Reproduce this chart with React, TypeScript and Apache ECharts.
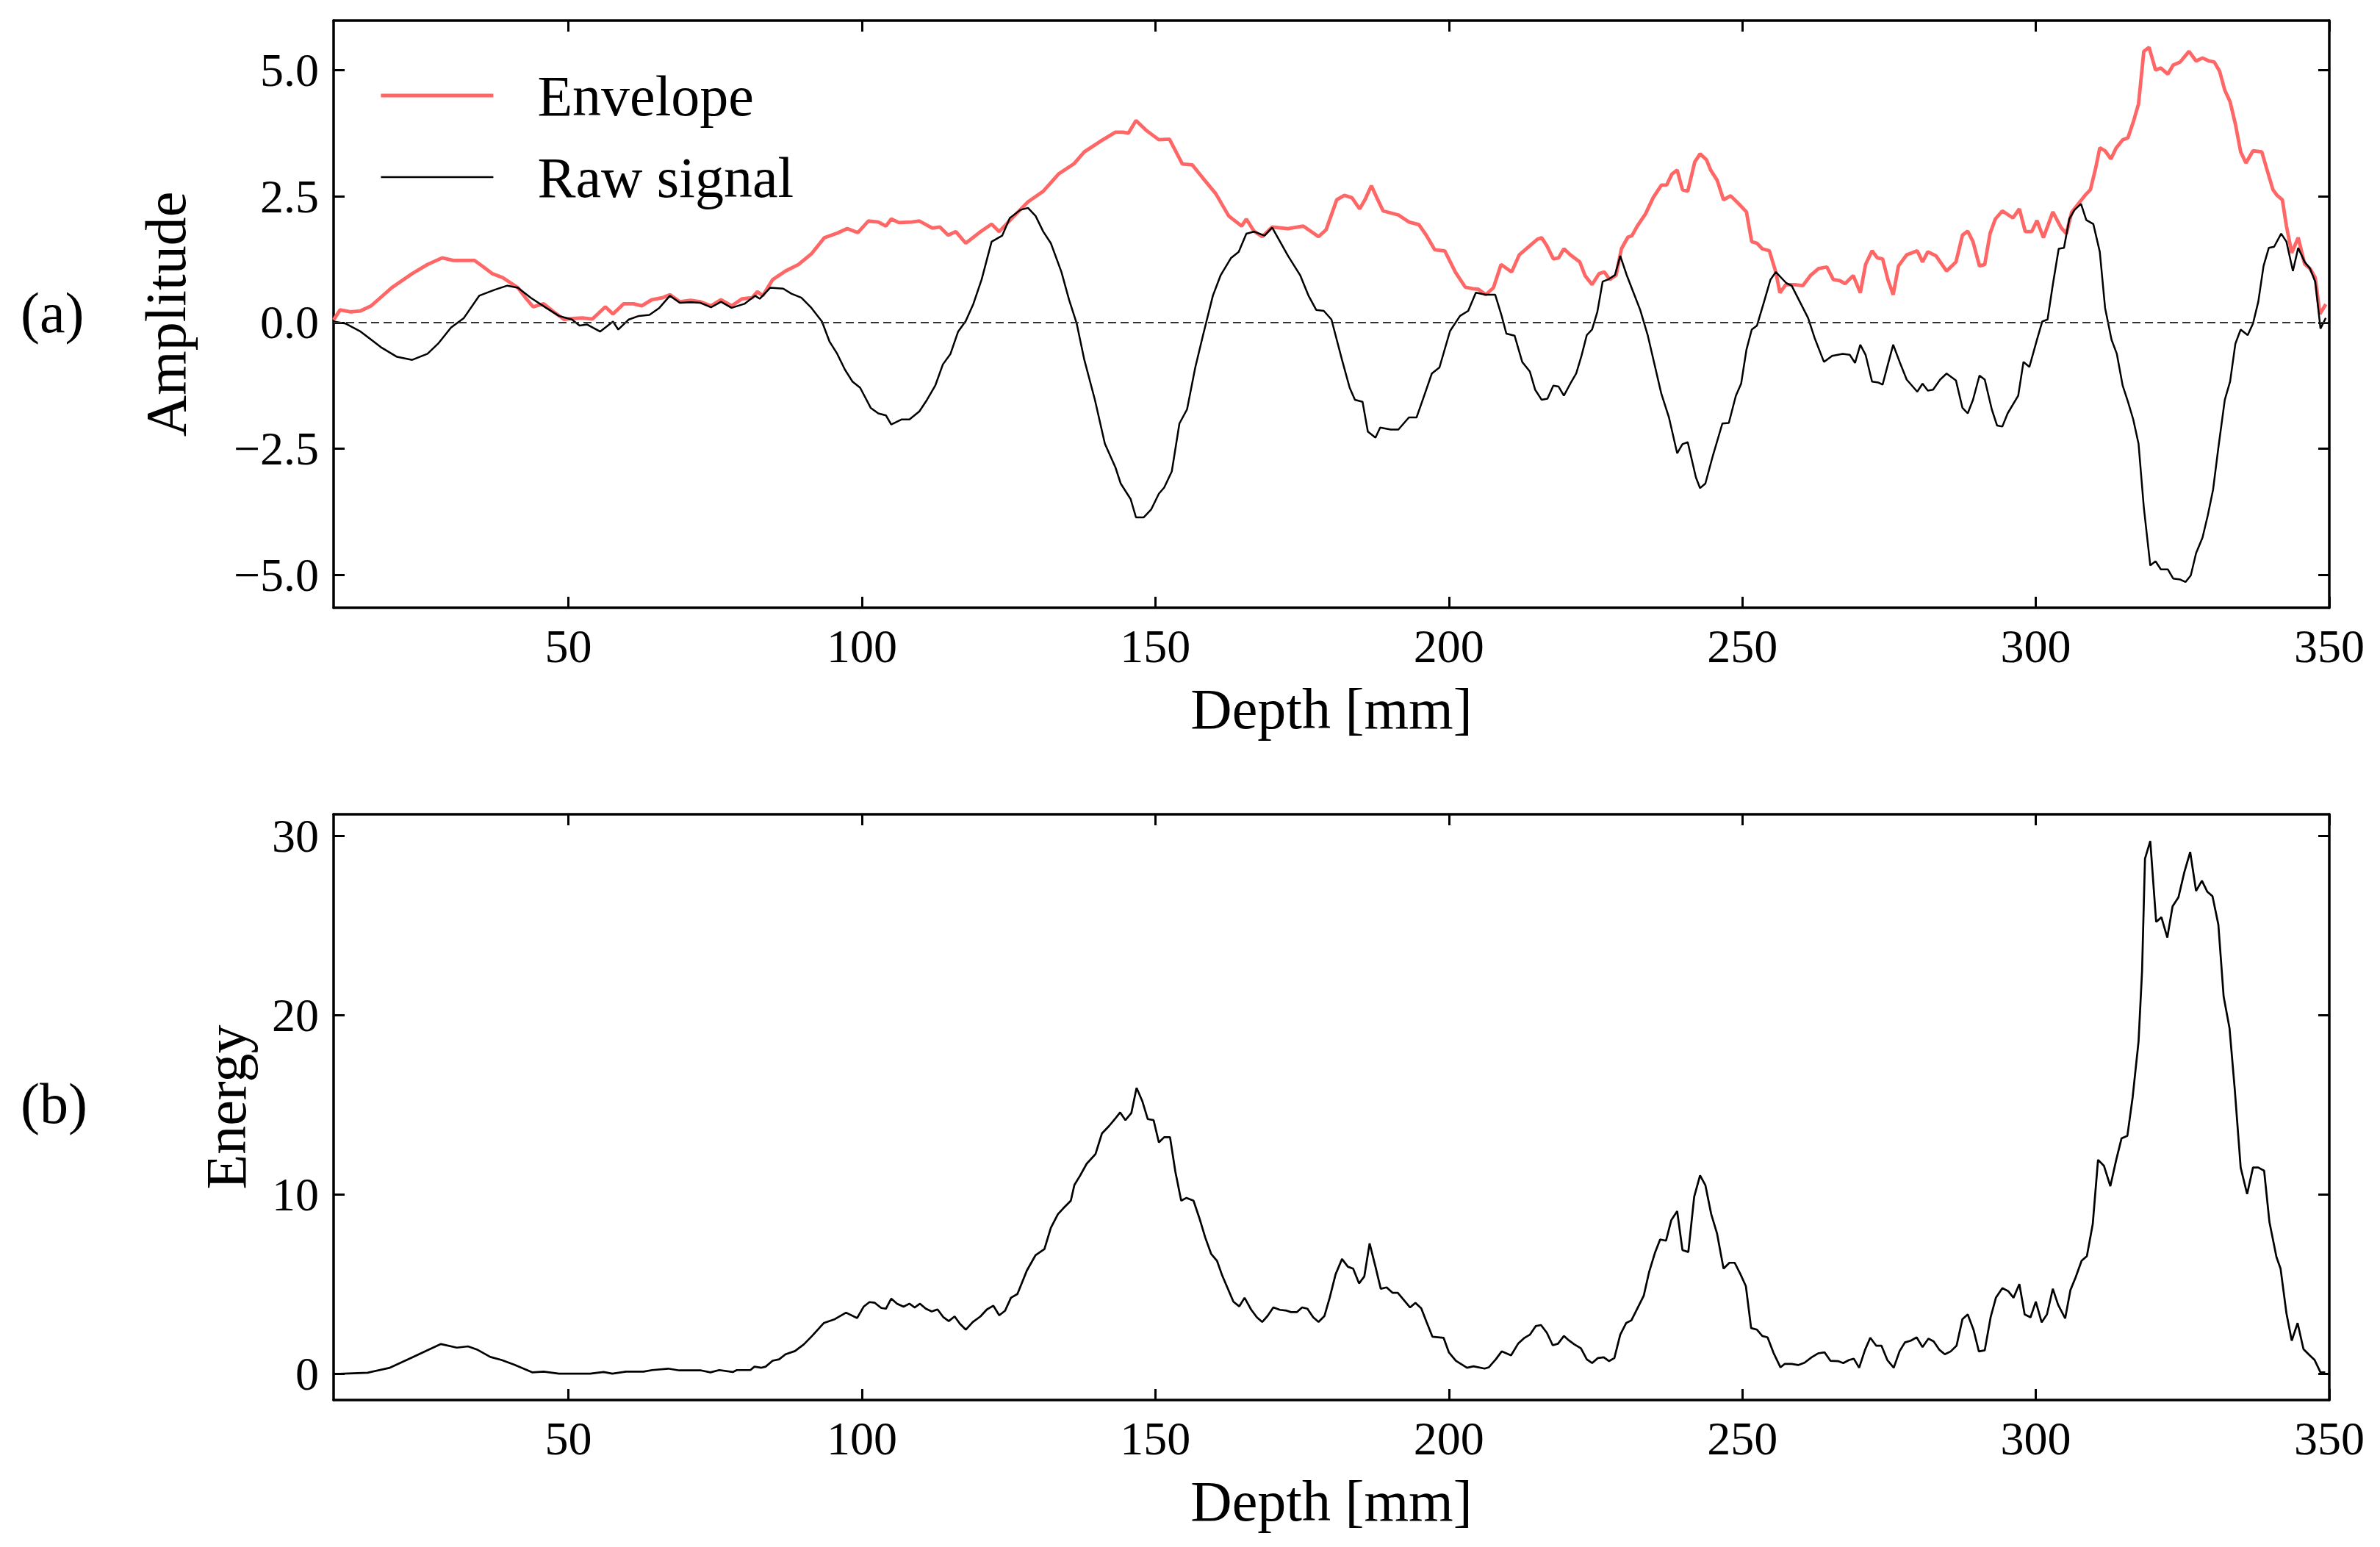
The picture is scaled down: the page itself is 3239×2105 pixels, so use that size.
import React, { useEffect, useRef } from "react";
import * as echarts from "echarts";

const envDepth = [10,11.1,12.9,14.6,16.4,19.9,23.4,26,28.5,30.4,32.2,34,35.3,37,38.8,41.4,42.7,44,45.8,47.5,49.3,50.6,52.4,54.1,55,56.3,57.6,59.4,61.1,62.5,64.2,66,67.3,69,70.8,72.5,74.3,76,77.8,79.6,81.3,82.2,83.1,84.8,87,89.2,91.4,93.6,95.8,97.5,99.3,101.1,102.8,104.1,105,106.3,108.5,109.8,112,113.3,114.7,116,117.7,120,122.1,123.4,125.6,128.3,130.9,133.5,136.1,137.9,140.5,143.2,144.5,145.4,146.7,148.4,150.6,152.4,154.6,156.3,158.1,160.3,162.5,164.7,165.5,166.8,168.2,169.9,172.6,175.2,177.8,179.1,180.9,182.2,183.5,184.8,185.7,186.8,187.9,188.8,191.4,193.2,194.9,196.2,197.6,199.3,201.1,202.8,204.1,205,206.3,207.6,208.9,210.7,212,213.8,215.1,215.8,216.7,217.8,218.7,219.6,220.7,222.3,223.2,224.4,225.6,226.5,227.4,228.5,229.4,230.5,231.2,232.1,233.5,234.8,236.2,237.1,238,238.9,239.8,240.7,241.9,242.8,243.9,244.6,245.7,246.8,248,249.4,250.7,251.6,252.5,253.4,254.6,255.7,256.4,257.4,258.9,260.3,261.6,263,264.4,265.5,266.6,267.5,268.9,270.1,271,272.1,273,273.9,274.8,275.7,276.6,278,279.8,280.7,281.6,283,284.8,286.4,287.5,288.4,289.3,290.4,291.3,292.2,293.1,294.3,296.1,297.2,298.2,299.3,300.2,301.3,302.9,304.3,305.2,306.1,307.5,308.4,309.3,310.2,310.9,311.8,312.8,313.7,314.8,315.7,316.6,317.5,318.4,319.3,320.4,321.3,322.5,323.4,324.6,326.1,327.3,328.4,329.5,330.4,331.3,332.2,333.1,334,334.9,335.8,337,338.5,339.3,340.4,341.1,342,342.7,343.6,344.7,345.8,346.7,347.6,348.4,349.4];
const envAmp = [0.05,0.25,0.21,0.23,0.33,0.69,0.97,1.15,1.28,1.23,1.23,1.23,1.12,0.97,0.89,0.69,0.49,0.31,0.37,0.21,0.06,0.08,0.09,0.07,0.17,0.31,0.17,0.37,0.37,0.33,0.45,0.49,0.55,0.41,0.44,0.41,0.33,0.45,0.33,0.47,0.49,0.61,0.53,0.85,1.02,1.15,1.36,1.68,1.77,1.86,1.78,2.01,1.99,1.91,2.05,1.98,1.99,2.01,1.87,1.89,1.73,1.8,1.57,1.78,1.95,1.8,2.07,2.39,2.6,2.94,3.14,3.38,3.58,3.77,3.77,3.75,4.0,3.81,3.62,3.63,3.14,3.12,2.86,2.55,2.11,1.91,2.05,1.81,1.7,1.89,1.86,1.91,1.7,1.84,2.43,2.52,2.47,2.25,2.43,2.71,2.43,2.21,2.13,1.99,1.94,1.72,1.44,1.42,1.0,0.7,0.67,0.66,0.55,0.69,1.15,1.0,1.34,1.52,1.65,1.68,1.52,1.26,1.28,1.46,1.34,1.2,0.93,0.75,0.97,1.0,0.85,0.94,1.46,1.69,1.72,1.91,2.15,2.47,2.72,2.72,2.94,3.02,2.63,2.6,3.18,3.34,3.22,3.02,2.82,2.43,2.51,2.35,2.19,1.6,1.57,1.46,1.42,1.0,0.59,0.75,0.75,0.73,0.93,1.07,1.1,0.85,0.83,0.77,0.93,0.59,1.15,1.42,1.28,1.26,0.85,0.55,1.12,1.34,1.42,1.2,1.4,1.32,1.02,1.2,1.73,1.81,1.6,1.12,1.15,1.76,2.05,2.21,2.07,2.25,1.8,1.8,2.02,1.68,2.19,1.88,1.76,2.18,2.39,2.52,2.63,3.06,3.46,3.4,3.24,3.46,3.62,3.66,3.97,4.33,5.37,5.45,5.0,5.04,4.92,5.1,5.16,5.37,5.18,5.24,5.18,5.16,4.98,4.6,4.37,3.93,3.38,3.16,3.4,3.38,3.06,2.63,2.52,2.43,1.91,1.38,1.68,1.16,1.07,0.89,0.17,0.36];

const rawDepth = [10,12,14.6,18.2,20.8,23.4,26,27.8,30,32.2,34.8,37.5,39.6,41.4,43.6,46.2,48.4,50.6,51.9,53.2,55.4,57.6,58.5,60.3,62,63.8,65.5,67.3,69,70.8,72.5,74.3,76,77.8,80,81.8,82.6,84.4,86.6,88,89.7,91.4,93.2,94.5,95.8,97.1,98.4,99.7,101.5,102.8,104.1,105,106.8,108.1,109.8,111.1,112.5,113.8,115.1,116.4,117.7,119,120.4,122.1,123.9,125.2,127,128.3,129.6,130.9,132.2,134,135.3,136.6,137.9,139.7,141.4,143.2,144.1,145.8,146.7,148,149.3,150.6,151.5,152.8,154.1,155.4,156.8,158.1,159.8,161.1,162.9,164.2,165.5,166.8,168.6,169.9,172.6,174.7,176.1,177.4,178.7,180,181.8,183.1,184,185.3,186.2,187.5,188.3,190.1,191.4,193.2,194.5,195.8,197.1,198.4,200.2,201.9,203.3,204.6,206.3,207.9,209,209.8,211.2,212.5,213.8,214.7,215.8,216.8,217.8,218.7,219.6,220.7,221.7,222.6,223.5,224.4,225.3,226.2,227.1,228.3,229.2,230.3,231.4,232.6,233.9,235,236.2,237.5,238.9,239.8,240.7,242.1,242.8,243.7,245,246.6,247.7,248.9,249.8,250.7,251.6,252.5,253.7,254.8,255.7,257.5,258.4,259.8,261.2,262.3,263.9,265.3,267.1,268.3,269.2,270.1,271,272.1,273.2,273.9,274.8,275.7,276.8,278,278.9,279.8,280.7,281.6,282.5,283.7,284.8,286.4,287.5,288.4,289.3,290.4,291.3,292.5,293.4,294.3,295.2,297,297.9,298.9,300.2,301.1,302,302.9,303.9,304.8,305.7,306.6,307.7,308.6,309.8,310.9,311.8,312.9,313.8,314.8,315.7,316.6,317.5,318.4,319.5,320.4,321.3,322.5,323.4,324.6,325.5,326.4,327.3,328.4,329.3,330.2,331.1,332.2,333.1,334,334.9,336.1,337,337.9,338.8,339.7,340.6,341.8,342.7,343.8,344.7,345.8,346.7,347.6,348.5,349.4];
const rawAmp = [0.02,-0.02,-0.18,-0.5,-0.68,-0.74,-0.62,-0.42,-0.1,0.09,0.53,0.65,0.73,0.69,0.49,0.29,0.13,0.06,-0.06,-0.04,-0.18,0.02,-0.14,0.06,0.13,0.15,0.29,0.53,0.39,0.4,0.39,0.3,0.41,0.29,0.37,0.53,0.47,0.69,0.67,0.57,0.49,0.29,0.02,-0.38,-0.62,-0.93,-1.17,-1.29,-1.69,-1.8,-1.84,-2.02,-1.92,-1.92,-1.76,-1.53,-1.25,-0.83,-0.62,-0.18,0.03,0.37,0.85,1.6,1.72,2.07,2.23,2.27,2.11,1.8,1.57,1.0,0.45,-0.02,-0.74,-1.53,-2.4,-2.87,-3.19,-3.5,-3.86,-3.86,-3.7,-3.39,-3.27,-2.95,-2.0,-1.72,-0.89,-0.26,0.53,0.93,1.28,1.4,1.76,1.8,1.72,1.88,1.32,0.93,0.53,0.25,0.23,0.06,-0.74,-1.29,-1.53,-1.57,-2.16,-2.28,-2.08,-2.12,-2.12,-1.88,-1.88,-1.45,-1.01,-0.89,-0.17,0.13,0.23,0.59,0.55,0.55,0.13,-0.22,-0.26,-0.78,-0.97,-1.33,-1.53,-1.51,-1.25,-1.27,-1.45,-1.21,-1.01,-0.66,-0.25,-0.14,0.21,0.81,0.85,0.94,1.32,0.94,0.61,0.25,-0.26,-0.81,-1.41,-1.88,-2.59,-2.41,-2.37,-3.07,-3.28,-3.19,-2.63,-2.0,-1.99,-1.45,-1.21,-0.54,-0.14,-0.06,0.41,0.85,1.0,0.78,0.73,0.41,0.09,-0.3,-0.78,-0.66,-0.62,-0.64,-0.8,-0.44,-0.64,-1.17,-1.19,-1.23,-0.83,-0.44,-0.78,-1.13,-1.25,-1.37,-1.21,-1.35,-1.33,-1.13,-1.01,-1.15,-1.69,-1.8,-1.53,-1.05,-1.13,-1.72,-2.04,-2.06,-1.8,-1.45,-0.78,-0.88,-0.34,0.02,0.06,0.75,1.46,1.48,2.05,2.23,2.35,2.03,1.95,1.4,0.29,-0.34,-0.62,-1.25,-1.57,-1.92,-2.4,-3.66,-4.81,-4.73,-4.89,-4.89,-5.07,-5.09,-5.14,-5.01,-4.57,-4.26,-3.82,-3.31,-2.48,-1.53,-1.17,-0.42,-0.14,-0.25,-0.02,0.41,1.12,1.48,1.5,1.76,1.6,1.02,1.48,1.2,1.07,0.81,-0.12,0.09];

const energyDepth = [10.1,15.8,19.6,23.4,26.4,28.3,31,32.9,34.4,36.7,38.6,40.8,43.9,45.8,48.4,53.7,56,57.5,59.8,62.8,64.3,67,68.9,72.6,74.2,75.7,78,78.7,81,81.7,82.9,83.6,84.8,85.9,87,88.6,90.1,91.6,93.5,95.4,97.3,99.2,100.3,101.3,102.2,103.3,104.1,105,106,107.1,108.1,109,109.9,110.9,111.9,112.9,113.9,114.8,115.8,116.7,117.7,118.9,120.2,121.3,122.4,123.4,124.4,125.4,126.5,128.1,129.6,131.1,132.2,133.4,134.3,135.6,136.2,137.2,138.3,139.8,140.9,142.1,143.1,144,144.9,145.9,146.8,147.8,148.7,149.7,150.6,151.5,152.5,153.4,154.4,155.3,156.5,157.5,158.5,159.5,160.5,161.4,163.3,164.3,165.2,166.3,167.3,168.2,169.1,170.1,171.2,172.4,173.1,174.1,175,175.9,176.9,177.8,178.8,179.7,180.7,181.8,182.8,183.7,184.7,185.6,186.5,187.5,188.4,189.4,190.4,191.3,192.3,193.4,194.3,195.3,196.2,197.2,199.1,200,201.2,203.1,204.2,206.1,206.8,208,209,210.6,211.8,212.9,213.8,214.8,215.7,216.7,217.7,218.6,219.6,220.5,221.4,222.5,223.5,224.4,225.4,226.4,227.3,228.2,229.2,230.2,231.1,232.2,233.2,234.1,235.1,236,237,237.9,238.9,239.8,240.8,241.8,242.8,243.7,244.7,245.7,246.8,247.8,248.7,249.7,250.6,251.5,252.5,253.4,254.3,255.3,256.5,257.2,258.4,259.5,260.6,261.8,262.9,264,265,266.3,267.2,268.2,269,269.9,270.9,271.8,272.8,273.7,274.7,275.8,276.8,277.7,278.7,279.7,280.7,281.7,282.6,283.6,284.5,285.5,286.5,287.5,288.4,289.4,290.3,291.3,292.3,293.2,294.3,295.3,296.2,297.2,298.1,299.1,300,301,301.9,302.9,303.8,305,305.9,306.8,307.8,308.7,309.7,310.6,311.6,312.7,313.7,314.6,315.6,316.5,317.5,318.1,318.6,319.5,320.5,321.4,322.4,323.3,324.3,325.3,326.3,327.3,328.3,329.2,330.1,331.1,332,333,333.9,334.9,336,337,337.9,338.9,339.8,341,341.7,342.7,343.6,344.6,345.6,346.6,347.5,348.5,349.3];
const energyVal = [0.0,0.07,0.35,0.93,1.39,1.67,1.47,1.54,1.37,0.95,0.78,0.52,0.09,0.13,0.02,0.02,0.11,0.02,0.13,0.13,0.22,0.3,0.2,0.2,0.09,0.22,0.11,0.22,0.22,0.41,0.35,0.41,0.74,0.82,1.1,1.28,1.65,2.15,2.84,3.06,3.42,3.12,3.75,4.01,3.97,3.68,3.64,4.2,3.92,3.75,3.92,3.71,3.92,3.64,3.49,3.6,3.16,2.95,3.21,2.8,2.47,2.9,3.21,3.6,3.81,3.27,3.53,4.25,4.46,5.76,6.63,6.96,8.15,8.91,9.23,9.66,10.53,11.07,11.72,12.26,13.41,13.82,14.21,14.58,14.15,14.54,15.95,15.19,14.21,14.15,12.91,13.2,13.2,11.29,9.66,9.82,9.66,8.69,7.61,6.7,6.31,5.48,4.03,3.77,4.25,3.6,3.16,2.9,3.23,3.71,3.58,3.53,3.45,3.45,3.71,3.64,3.16,2.9,3.23,4.25,5.55,6.41,5.98,5.87,5.05,5.44,7.28,5.98,4.75,4.83,4.53,4.53,4.14,3.71,3.97,3.66,2.9,2.08,2.02,1.21,0.74,0.35,0.43,0.3,0.37,0.82,1.26,1.04,1.69,2.02,2.19,2.67,2.73,2.3,1.6,1.69,2.12,1.86,1.65,1.43,0.82,0.61,0.89,0.93,0.72,0.89,2.19,2.84,2.99,3.71,4.36,5.66,6.74,7.5,7.43,8.58,9.08,6.91,6.8,9.88,11.07,10.53,8.91,7.82,5.87,6.2,6.2,5.55,4.9,2.56,2.47,2.12,2.04,1.19,0.37,0.56,0.56,0.5,0.63,0.93,1.15,1.21,0.74,0.72,0.61,0.78,0.85,0.35,1.34,2.02,1.58,1.58,0.78,0.35,1.28,1.76,1.86,2.04,1.5,1.97,1.82,1.34,1.1,1.26,1.58,3.06,3.32,2.45,1.26,1.32,3.16,4.25,4.79,4.62,4.25,5.01,3.32,3.16,4.03,2.88,3.32,4.75,3.86,3.1,4.68,5.4,6.31,6.57,8.36,11.94,11.61,10.47,11.94,13.13,13.28,15.43,18.53,22.45,28.73,29.71,25.2,25.46,24.33,26.07,26.57,27.97,29.1,26.93,27.5,26.89,26.63,25.05,21.04,19.28,15.84,11.51,10.03,11.51,11.51,11.33,8.47,6.52,5.87,3.38,1.86,2.84,1.39,1.06,0.78,0.09,0.09];

const xTicks = [50, 100, 150, 200, 250, 300, 350];
const ampTicks = [-5, -2.5, 0, 2.5, 5];
const energyTicks = [0, 10, 20, 30];

const FONT = "'Liberation Serif', 'DejaVu Serif', serif";
const TICK_FS = 64;
const LABEL_FS = 78;
const ENV_COLOR = "#FF6666";
const ENV_WIDTH = 4.8;
const RAW_WIDTH = 2.5;

const zip = (xs: number[], ys: number[]) => xs.map((x, i) => [x, ys[i]]);

function frameAxis(extra: any) {
  return {
    axisLine: { show: true, onZero: false, lineStyle: { color: "#000", width: 3.5 } },
    splitLine: { show: false },
    ...extra,
  };
}

export default function App() {
  const ref = useRef<HTMLDivElement>(null);
  useEffect(() => {
    if (!ref.current) return;
    const chart = echarts.init(ref.current, null, { renderer: "svg" });
    const tick = (vals: number[]) => ({
      show: true,
      inside: true,
      length: 15,
      customValues: vals,
      lineStyle: { color: "#000", width: 3 },
    });
    const label = (vals: number[], fmt: (v: number) => string) => ({
      show: true,
      customValues: vals,
      margin: 20,
      fontSize: TICK_FS,
      fontFamily: FONT,
      color: "#000",
      formatter: fmt,
    });
    const intFmt = (v: number) => String(Math.round(v));
    const ampFmt = (v: number) => (v < 0 ? "\u2212" + Math.abs(v).toFixed(1) : v.toFixed(1));
    const nameStyle = { fontSize: LABEL_FS, fontFamily: FONT, color: "#000" };

    const xMain = (grid: number) =>
      frameAxis({
        type: "value",
        gridIndex: grid,
        position: "bottom",
        min: 10,
        max: 350,
        axisTick: tick(xTicks),
        axisLabel: label(xTicks, intFmt),
        name: "Depth [mm]",
        nameLocation: "middle",
        nameGap: 98,
        nameTextStyle: nameStyle,
      });
    const xTop = (grid: number) =>
      frameAxis({
        type: "value",
        gridIndex: grid,
        position: "top",
        min: 10,
        max: 350,
        axisTick: tick(xTicks),
        axisLabel: { show: false },
      });

    const option: any = {
      animation: false,
      backgroundColor: "#fff",
      grid: [
        { left: 454, top: 28, width: 2716, height: 799, containLabel: false },
        { left: 454, top: 1108, width: 2716, height: 797, containLabel: false },
      ],
      xAxis: [xMain(0), xTop(0), xMain(1), xTop(1)],
      yAxis: [
        frameAxis({
          type: "value",
          gridIndex: 0,
          position: "left",
          min: -5.65,
          max: 5.98,
          axisTick: tick(ampTicks),
          axisLabel: label(ampTicks, ampFmt),
          name: "Amplitude",
          nameLocation: "middle",
          nameRotate: 90,
          nameGap: 190,
          nameTextStyle: nameStyle,
        }),
        frameAxis({
          type: "value",
          gridIndex: 0,
          position: "right",
          min: -5.65,
          max: 5.98,
          axisTick: tick(ampTicks),
          axisLabel: { show: false },
        }),
        frameAxis({
          type: "value",
          gridIndex: 1,
          position: "left",
          min: -1.45,
          max: 31.2,
          axisTick: tick(energyTicks),
          axisLabel: label(energyTicks, intFmt),
          name: "Energy",
          nameLocation: "middle",
          nameRotate: 90,
          nameGap: 108,
          nameTextStyle: nameStyle,
        }),
        frameAxis({
          type: "value",
          gridIndex: 1,
          position: "right",
          min: -1.45,
          max: 31.2,
          axisTick: tick(energyTicks),
          axisLabel: { show: false },
        }),
      ],
      legend: {
        show: true,
        orient: "vertical",
        left: 511,
        top: 86,
        itemWidth: 153,
        itemHeight: 20,
        itemGap: 33,
        itemStyle: { opacity: 0 },
        data: [
          { name: "Envelope", itemStyle: { opacity: 0 }, lineStyle: { color: ENV_COLOR, width: ENV_WIDTH } },
          { name: "Raw signal", itemStyle: { opacity: 0 }, lineStyle: { color: "#000", width: RAW_WIDTH } },
        ],
        textStyle: { fontSize: LABEL_FS, fontFamily: FONT, color: "#000", padding: [0, 0, 0, 55] },
      },
      graphic: [
        { type: "text", left: 28, top: 386, style: { text: "(a)", fontSize: LABEL_FS, fontFamily: FONT, fill: "#000" } },
        { type: "text", left: 28, top: 1462, style: { text: "(b)", fontSize: LABEL_FS, fontFamily: FONT, fill: "#000" } },
      ],
      series: [
        {
          name: "Envelope",
          type: "line",
          xAxisIndex: 0,
          yAxisIndex: 0,
          data: zip(envDepth, envAmp),
          symbol: "none",
          color: ENV_COLOR,
          lineStyle: { color: ENV_COLOR, width: ENV_WIDTH },
          z: 2,
        },
        {
          name: "Raw signal",
          type: "line",
          xAxisIndex: 0,
          yAxisIndex: 0,
          data: zip(rawDepth, rawAmp),
          symbol: "none",
          color: "#000",
          lineStyle: { color: "#000", width: RAW_WIDTH },
          z: 3,
          markLine: {
            silent: true,
            symbol: ["none", "none"],
            label: { show: false },
            lineStyle: { color: "#333", width: 2, type: [11, 6] },
            data: [{ yAxis: 0 }],
          },
        },
        {
          name: "Energy",
          type: "line",
          xAxisIndex: 2,
          yAxisIndex: 2,
          data: zip(energyDepth, energyVal),
          symbol: "none",
          color: "#000",
          lineStyle: { color: "#000", width: 2.7 },
        },
      ],
    };
    chart.setOption(option);
    return () => chart.dispose();
  }, []);
  return (
    <div
      ref={ref}
      style={{ position: "absolute", left: 0, top: 0, width: 3239, height: 2105, background: "#fff" }}
    />
  );
}
